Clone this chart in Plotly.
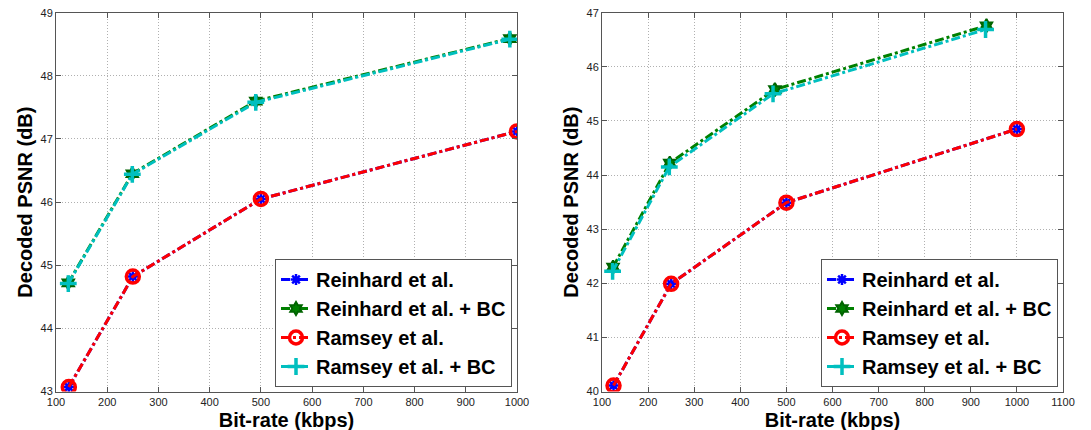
import plotly.graph_objects as go

# ---------------- data ----------------
series_names = ["Reinhard et al.", "Reinhard et al. + BC", "Ramsey et al.", "Ramsey et al. + BC"]

# left panel
left_x_base = [125, 250, 500, 1000]
left_x_bc = [124, 249, 490, 986]
left_reinhard = [43.07, 44.82, 46.05, 47.12]
left_reinhard_bc = [44.72, 46.45, 47.60, 48.59]
left_ramsey = [43.07, 44.82, 46.05, 47.12]
left_ramsey_bc = [44.71, 46.44, 47.58, 48.58]

# right panel
right_x_base = [125, 250, 500, 1000]
right_x_bc_reinhard = [124, 247, 475, 934]
right_x_bc_ramsey = [123, 246, 471, 932]
right_reinhard = [40.11, 41.99, 43.49, 44.85]
right_reinhard_bc = [42.30, 44.22, 45.58, 46.76]
right_ramsey = [40.11, 41.99, 43.49, 44.85]
right_ramsey_bc = [42.22, 44.15, 45.50, 46.69]

x_title = "Bit-rate (kbps)"
y_title = "Decoded PSNR (dB)"

# ---------------- styles ----------------
styles = [
    dict(color="#0000FF", symbol="asterisk-open", size=9, mlw=2.5, mcolor="#0000FF", fill="#0000FF"),
    dict(color="#008000", symbol="hexagram", size=10, mlw=2, mcolor="#006400", fill="#008000"),
    dict(color="#FF0000", symbol="circle-open", size=13, mlw=3.5, mcolor="#FF0000", fill="#FF0000"),
    dict(color="#00BFBF", symbol="cross-thin-open", size=12, mlw=3.5, mcolor="#00BFBF", fill="#00BFBF"),
]

fig = go.Figure()

def add_panel(xs, ys, xa, ya, legend):
    for name, x, y, st in zip(series_names, xs, ys, styles):
        fig.add_trace(go.Scatter(
            x=x, y=y, name=name, mode="lines+markers",
            xaxis=xa, yaxis=ya, legend=legend,
            line=dict(color=st["color"], width=3, dash="dashdot"),
            marker=dict(symbol=st["symbol"], size=st["size"], color=st["fill"],
                        line=dict(color=st["mcolor"], width=st["mlw"])),
        ))

add_panel([left_x_base, left_x_bc, left_x_base, left_x_bc],
          [left_reinhard, left_reinhard_bc, left_ramsey, left_ramsey_bc],
          "x", "y", "legend")
add_panel([right_x_base, right_x_bc_reinhard, right_x_base, right_x_bc_ramsey],
          [right_reinhard, right_reinhard_bc, right_ramsey, right_ramsey_bc],
          "x2", "y2", "legend2")

W, H = 1091, 430
FONT = "Liberation Sans, Arial, sans-serif"

def px_x(p):
    return p / W

def px_y(p):
    return 1 - p / H

axis_common = dict(
    showgrid=True, gridcolor="#b0b0b0", griddash="1px,2px", gridwidth=1,
    showline=True, linecolor="#555555", linewidth=1, mirror="ticks",
    ticks="inside", ticklen=5, tickcolor="#555555",
    tickfont=dict(family=FONT, size=11, color="#222222"),
    ticklabeloverflow="allow",
    zeroline=False, automargin=False,
)

title_font = dict(family=FONT, size=20, color="black", weight="bold")

legend_common = dict(
    xanchor="left", yanchor="bottom",
    bgcolor="white", bordercolor="#555555", borderwidth=1,
    font=dict(family=FONT, size=20, color="black", weight="bold"),
    tracegroupgap=0, itemwidth=30,
)

fig.update_layout(
    width=W, height=H,
    margin=dict(l=0, r=0, t=0, b=0),
    paper_bgcolor="white", plot_bgcolor="white",
    font=dict(family=FONT),
    xaxis=dict(domain=[px_x(48), px_x(509)], range=[100, 1000], dtick=100, tick0=100,
               anchor="y", title=dict(text=x_title, font=title_font, standoff=6), **axis_common),
    yaxis=dict(domain=[px_y(383.5), px_y(4.7)], range=[43, 49], dtick=1,
               anchor="x", title=dict(text=y_title, font=title_font, standoff=2), **axis_common),
    xaxis2=dict(domain=[px_x(594), px_x(1055)], range=[100, 1100], dtick=100, tick0=100,
                anchor="y2", title=dict(text=x_title, font=title_font, standoff=6), **axis_common),
    yaxis2=dict(domain=[px_y(383.5), px_y(4.7)], range=[40, 47], dtick=1,
                anchor="x2", title=dict(text=y_title, font=title_font, standoff=2), **axis_common),
    legend=dict(x=px_x(267), y=px_y(379), **legend_common),
    legend2=dict(x=px_x(813), y=px_y(379), **legend_common),
)

fig.write_html("out.html")
